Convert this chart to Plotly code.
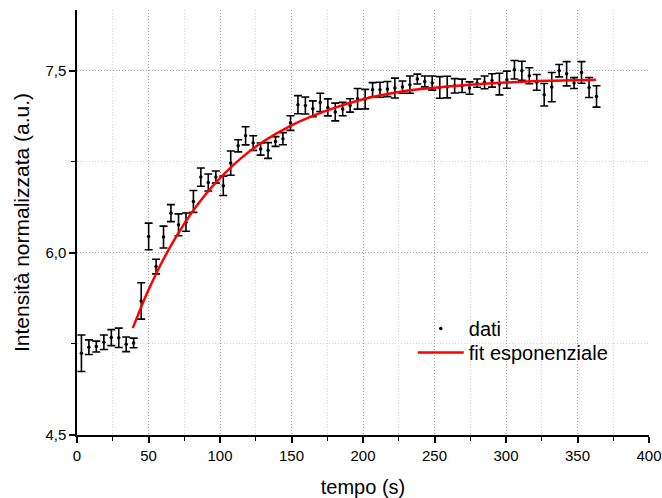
import plotly.graph_objects as go

# time (s)
tempo = [3.1, 8.3, 13.5, 18.8, 24.0, 29.2, 34.4, 39.6, 44.9, 50.1,
         55.3, 60.5, 65.7, 71.0, 76.2, 81.4, 86.6, 91.8, 97.1, 102.3,
         107.5, 112.7, 117.9, 123.2, 128.4, 133.6, 138.8, 144.0, 149.3, 154.5,
         159.7, 164.9, 170.1, 175.4, 180.6, 185.8, 191.0, 196.2, 201.5, 206.7,
         211.9, 217.1, 222.3, 227.6, 232.8, 238.0, 243.2, 248.4, 253.7, 258.9,
         264.1, 269.3, 274.5, 279.8, 285.0, 290.2, 295.4, 300.6, 305.9, 311.1,
         316.3, 321.5, 326.7, 332.0, 337.2, 342.4, 347.6, 352.8, 358.1, 363.3]

# normalized intensity (a.u.)
intensita = [5.173, 5.223, 5.228, 5.264, 5.302, 5.300, 5.247, 5.258, 5.604, 6.135,
             5.887, 6.130, 6.327, 6.231, 6.253, 6.423, 6.624, 6.580, 6.624, 6.552,
             6.739, 6.882, 6.964, 6.904, 6.855, 6.843, 6.917, 6.940, 7.069, 7.220,
             7.214, 7.187, 7.239, 7.198, 7.160, 7.184, 7.214, 7.269, 7.266, 7.343,
             7.343, 7.349, 7.357, 7.365, 7.385, 7.431, 7.412, 7.398, 7.362, 7.365,
             7.376, 7.376, 7.357, 7.398, 7.404, 7.420, 7.390, 7.426, 7.508, 7.500,
             7.459, 7.404, 7.302, 7.365, 7.500, 7.475, 7.398, 7.486, 7.362, 7.288]

# error bars
errore = [0.150, 0.060, 0.045, 0.060, 0.066, 0.080, 0.060, 0.040, 0.150, 0.110,
          0.060, 0.090, 0.070, 0.090, 0.075, 0.090, 0.075, 0.070, 0.050, 0.080,
          0.100, 0.050, 0.075, 0.060, 0.050, 0.065, 0.040, 0.050, 0.060, 0.075,
          0.070, 0.065, 0.075, 0.070, 0.073, 0.055, 0.055, 0.085, 0.080, 0.059,
          0.062, 0.062, 0.082, 0.050, 0.071, 0.041, 0.045, 0.058, 0.089, 0.089,
          0.059, 0.055, 0.051, 0.034, 0.052, 0.055, 0.089, 0.071, 0.076, 0.078,
          0.066, 0.065, 0.093, 0.120, 0.051, 0.100, 0.045, 0.089, 0.082, 0.088]

# exponential fit curve
fit_t = [39, 45, 50, 60, 70, 80, 90, 100, 115, 130, 150, 175, 200, 225, 250, 275, 300, 330, 363]
fit_y = [5.38, 5.557, 5.694, 5.937, 6.146, 6.327, 6.482, 6.615, 6.782, 6.915, 7.05,
         7.173, 7.265, 7.325, 7.36, 7.385, 7.403, 7.417, 7.426]

x_ticks = [0, 50, 100, 150, 200, 250, 300, 350, 400]
y_ticks = [4.5, 6.0, 7.5]

FONT = "Liberation Sans, Arial, sans-serif"

fig = go.Figure()

fig.add_trace(go.Scatter(
    x=tempo, y=intensita, mode="markers", showlegend=False,
    marker=dict(color="black", size=3.5),
    error_y=dict(type="data", array=errore, visible=True,
                 color="black", thickness=1.6, width=4),
))
fig.add_trace(go.Scatter(
    x=[None], y=[None], mode="markers", name="dati", legend="legend",
    marker=dict(color="black", size=3.5),
))
fig.add_trace(go.Scatter(
    x=fit_t, y=fit_y, mode="lines", name="fit esponenziale", legend="legend2",
    line=dict(color="red", width=2.5, shape="spline"),
))

axis_common = dict(
    showline=True, linecolor="black", linewidth=1.5,
    ticks="outside", ticklen=6, tickwidth=1.5, tickcolor="black",
    showgrid=True, gridcolor="#a0a0a0", griddash="1px,2px", gridwidth=1,
    zeroline=False, mirror=False, automargin=False,
    ticklabeloverflow="allow",
    tickfont=dict(family=FONT, size=15, color="black"),
)

fig.update_xaxes(
    **axis_common,
    range=[0, 400], tickvals=x_ticks,
    minor=dict(dtick=25, tick0=0, ticks="outside", ticklen=4, tickwidth=1.2,
               tickcolor="black", showgrid=True, gridcolor="#d4d4d4",
               griddash="1px,2px", gridwidth=1),
    title=dict(text="tempo (s)", font=dict(family=FONT, size=20, color="black"),
               standoff=18),
)
fig.update_yaxes(
    **axis_common,
    range=[4.5, 8.0], tickvals=y_ticks, tickformat=".1f",
    minor=dict(dtick=0.75, tick0=4.5, ticks="outside", ticklen=4, tickwidth=1.2,
               tickcolor="black", showgrid=True, gridcolor="#d4d4d4",
               griddash="1px,2px", gridwidth=1),
    title=dict(text="Intensità normalizzata (a.u.)",
               font=dict(family=FONT, size=21, color="black"), standoff=10),
)

legend_common = dict(
    xanchor="left", yanchor="top",
    bgcolor="rgba(0,0,0,0)", borderwidth=0,
    font=dict(family=FONT, size=20, color="black"),
    itemwidth=46, tracegroupgap=0,
)

fig.update_layout(
    width=662, height=498,
    margin=dict(l=77, r=13, t=10, b=63),
    paper_bgcolor="white", plot_bgcolor="white",
    separators=", ",
    font=dict(family=FONT, color="black"),
    legend=dict(x=0.587, y=0.2965, **legend_common),
    legend2=dict(x=0.587, y=0.240, **legend_common),
)

# remove the default 8px page margin so the 662x498 figure fills the window
fig.write_html(
    "out.html",
    config={"displayModeBar": False},
    post_script="document.body.style.margin='0px';document.body.style.overflow='hidden';",
)
